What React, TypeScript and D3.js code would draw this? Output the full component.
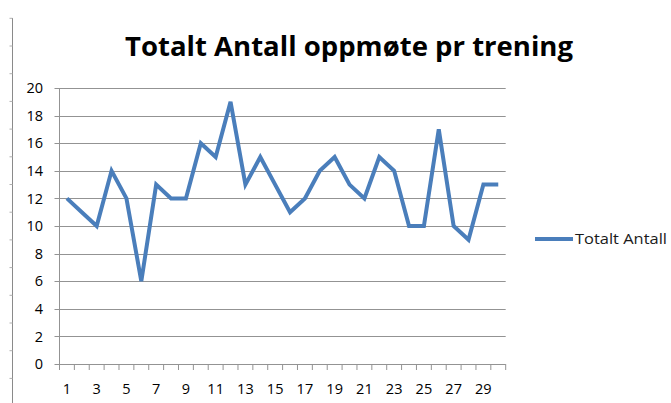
import React from "react";
import * as d3 from "d3";

const categories: number[] = Array.from({ length: 30 }, (_, i) => i + 1);
const values: number[] = [12, 11, 10, 14, 12, 6, 13, 12, 12, 16, 15, 19, 13, 15, 13, 11, 12, 14, 15, 13, 12, 15, 14, 10, 10, 17, 10, 9, 13, 13];
const yTicks: number[] = [0, 2, 4, 6, 8, 10, 12, 14, 16, 18, 20];
const title = "Totalt Antall oppmøte pr trening";
const seriesName = "Totalt Antall";

const W = 671;
const H = 403;
const left = 59.5;
const right = 505.7;
const top = 88;
const bottom = 364;
const FONT = "'Open Sans', 'Liberation Sans', sans-serif";
const GRID = "#939393";
const BLUE = "#4a7ebb";

export default function App() {
  const x = d3.scaleBand<number>().domain(categories).range([left, right]).padding(0);
  const y = d3.scaleLinear().domain([0, 20]).range([bottom, top]);
  const line = d3
    .line<number>()
    .x((_, i) => (x(categories[i]) as number) + x.bandwidth() / 2)
    .y((d) => y(d));
  const edges = categories.map((c) => x(c) as number).concat([right]);
  const rulerTicks = d3.range(18.3, H, 27.7);

  return (
    <svg width={W} height={H} style={{ position: "absolute", left: 0, top: 0, background: "#fff" }}>
      <rect x={0} y={0} width={W} height={H} fill="#fff" />
      {/* left ruler decoration */}
      <line x1={12.5} x2={12.5} y1={18} y2={H} stroke="#8a8a8a" strokeWidth={1} />
      {rulerTicks.map((t, i) => (
        <line key={i} x1={9.5} x2={12.5} y1={t} y2={t} stroke="#b0b0b0" strokeWidth={1} />
      ))}
      <text x={349} y={56} textAnchor="middle" fontFamily={FONT} fontWeight={700} fontSize={26} textLength={448} lengthAdjust="spacingAndGlyphs" fill="#000">
        {title}
      </text>
      {/* gridlines */}
      {yTicks.map((t) => (
        <line key={t} x1={left} x2={right} y1={Math.round(y(t)) + 0.5} y2={Math.round(y(t)) + 0.5} stroke={GRID} strokeWidth={1} />
      ))}
      {yTicks.map((t) => (
        <line key={"yt" + t} x1={left - 5} x2={left} y1={Math.round(y(t)) + 0.5} y2={Math.round(y(t)) + 0.5} stroke={GRID} strokeWidth={1} />
      ))}
      <line x1={left} x2={left} y1={top} y2={bottom + 0.5} stroke={GRID} strokeWidth={1} />
      {edges.map((e, i) => (
        <line key={"xt" + i} x1={e} x2={e} y1={bottom} y2={bottom + 6} stroke={GRID} strokeWidth={1} />
      ))}
      {yTicks.map((t) => (
        <text key={"yl" + t} x={43} y={y(t)} dy="0.36em" textAnchor="end" fontFamily={FONT} fontSize={14.5} fill="#000">
          {t}
        </text>
      ))}
      {categories.filter((c) => c % 2 === 1).map((c) => (
        <text key={"xl" + c} x={(x(c) as number) + x.bandwidth() / 2} y={394} textAnchor="middle" fontFamily={FONT} fontSize={14.5} fill="#000">
          {c}
        </text>
      ))}
      <path d={line(values) || ""} fill="none" stroke={BLUE} strokeWidth={4} strokeLinejoin="miter" strokeLinecap="butt" />
      <line x1={535} x2={573} y1={239} y2={239} stroke={BLUE} strokeWidth={4} />
      <text x={575} y={239} dy="0.36em" fontFamily={FONT} fontSize={14} textLength={92} lengthAdjust="spacingAndGlyphs" fill="#1a1a1a">
        {seriesName}
      </text>
    </svg>
  );
}
